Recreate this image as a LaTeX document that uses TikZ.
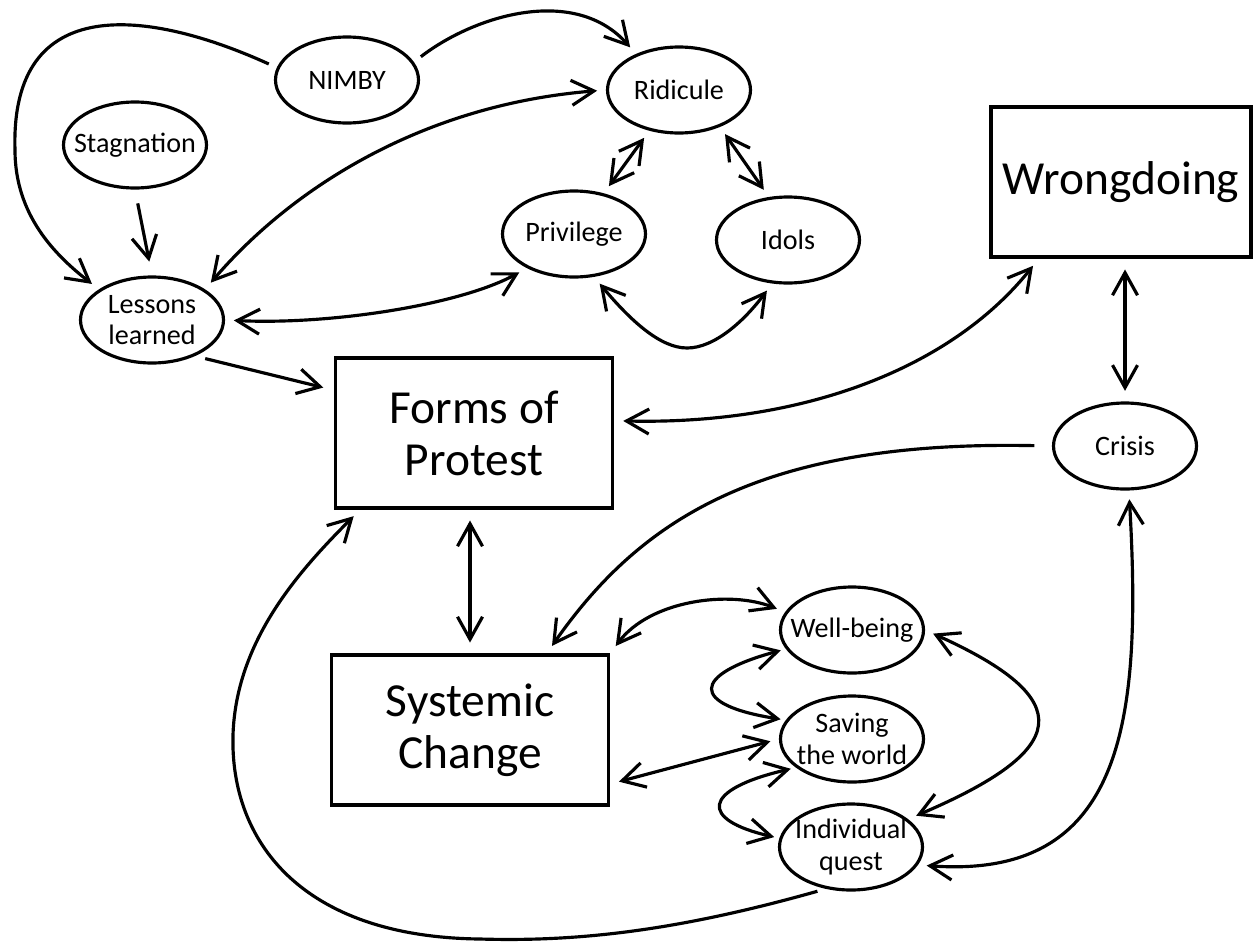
\documentclass[tikz,border=0pt]{standalone}
\usepackage{fontspec}
\setmainfont{Carlito}
\usetikzlibrary{shapes.geometric,arrows.meta}

\tikzstyle{bubble}=[ellipse, draw, line width=1.8pt, minimum width=2.86cm, minimum height=1.72cm, inner xsep=-0.3cm, inner ysep=-0.15cm, align=center, font=\fontsize{16}{18}\selectfont]
\tikzstyle{block}=[rectangle, draw, line width=2.2pt, minimum width=5.54cm, minimum height=3cm, align=center, font=\fontsize{27}{29.6}\selectfont]

\begin{document}
\begin{tikzpicture}[x=0.2mm, y=-0.2mm, line width=1.8pt,
>={Straight Barb[length=0.45cm,width=0.5cm]},
link/.style={shorten <=#1, shorten >=#1}, link/.default=5pt]
\useasboundingbox (0,0) rectangle (1255,942);

 \node[bubble] (NIMBY) at (347,80) {NIMBY};
 \node[bubble] (Stagnation) at (135,145) {Stagnation};
 \node[bubble] (Lessons) at (152,320) {Lessons\\learned};
 \node[bubble] (Ridicule) at (679,90) {Ridicule};
 \node[bubble] (Privilege) at (574,234) {Privilege};
 \node[bubble] (Idols) at (788,240) {Idols};
 \node[bubble] (Crisis) at (1125,446) {Crisis};
 \node[bubble] (Wellbeing) at (852,630) {Well-being};
 \node[bubble] (Saving) at (852,739) {Saving\\the world};
 \node[bubble] (Individual) at (851,847) {Individual\\quest};

 \node[block] (Forms) at (474,433) {Forms of\\Protest};
 \node[block] (Systemic) at (470,730) {Systemic\\Change};
 \node[block, minimum width=5.2cm] (Wrongdoing) at (1121,182) {Wrongdoing};

% upper left cluster
 \draw[->, link] (NIMBY.170) .. controls (150,10) and (10,-10) .. (15,150)
       .. controls (15,215) and (55,255) .. (Lessons.150);
 \draw[->, link=8pt] (Stagnation.south) -- (Lessons.north);
 \draw[->, link] (NIMBY.15) .. controls (475,15) and (575,-15) .. (Ridicule.140);
 \draw[<->, link] (Lessons.30) .. controls (290,190) and (420,105) .. (Ridicule.west);
 \draw[<->, link] (Lessons.east) .. controls (330,325) and (460,305) .. (Privilege.216);
 \draw[->, link=6pt] (Lessons.-40) -- (Forms.163);

 \draw[<->, link] (Ridicule) -- (Privilege);
 \draw[<->, link] (Ridicule.-42) -- (Idols.114);
 \draw[<->, link] (Privilege.-65) .. controls (630,320) and (660,348) .. (687,348)
       .. controls (715,348) and (745,320) .. (Idols.-110);

% right side
 \draw[<->, link] (Forms.5) .. controls (800,425) and (950,370) .. (Wrongdoing.-137.5);
 \draw[<->, link=6pt] (Crisis.north |- Wrongdoing.south) -- (Crisis.north);
 \draw[->, shorten <=10pt, shorten >=5pt] (Crisis.west) .. controls (760,440) and (640,520) .. (Systemic.45);
 \draw[<->, link] (Crisis.-85) .. controls (1142,720) and (1125,880) .. (Individual.-15);

% center
 \draw[<->, link=6pt] (Systemic.north |- Forms.south) -- (Systemic.north);
 \draw[<->, link] (Systemic.north east) .. controls (650,600) and (730,590) .. (Wellbeing.165);
 \draw[<->, link] (Systemic.-21) -- (Saving.west);

% lower right cluster
 \draw[<->, link=3pt] (Wellbeing.196) .. controls (690,675) and (690,705) .. (Saving.164);
 \draw[<->, link=3pt] (Saving.-153) .. controls (700,790) and (700,820) .. (Individual.173);
 \draw[<->, link] (Wellbeing.east) .. controls (1080,700) and (1070,750) .. (Individual.26);

 \draw[->, link] (Individual.-121) .. controls (680,930) and (580,942) .. (480,939)
       .. controls (300,937) and (230,840) .. (233,735)
       .. controls (236,640) and (300,570) .. (Forms.-146);

\end{tikzpicture}
\end{document}
